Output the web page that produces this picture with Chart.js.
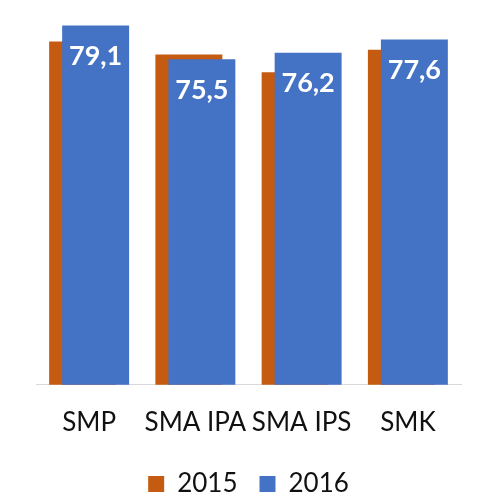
<!DOCTYPE html>
<html>
<head>
<meta charset="utf-8">
<script src="https://cdn.jsdelivr.net/npm/chart.js@4.4.0/dist/chart.umd.min.js"></script>
<style>
    html, body { margin: 0; padding: 0; background: #fff; }
    #wrap { width: 483px; height: 500px; }
</style>
</head>
<body>
<div id="wrap"><canvas id="bar"></canvas></div>
<script>
var categories = ['SMP', 'SMA IPA', 'SMA IPS', 'SMK'];
var seriesNames = ['2015', '2016'];
var values2015 = [77.4, 76.0, 74.1, 76.5];
var values2016 = [79.1, 75.5, 76.2, 77.6];

var FONT = 'Lato, "Open Sans", sans-serif';

// 2016 sits to the right but must be painted over 2015
var drawOrder = {
    id: 'drawOrder',
    beforeDatasetDraw: function (chart, args) {
        if (args.index === 1) {
            return false;
        }
    },
    afterDatasetsDraw: function (chart) {
        var meta = chart.getDatasetMeta(1);
        var area = chart.chartArea;
        if (meta.hidden) return;
        chart.ctx.save();
        chart.ctx.beginPath();
        chart.ctx.rect(area.left, area.top, area.right - area.left, area.bottom - area.top);
        chart.ctx.clip();
        meta.controller.draw();
        chart.ctx.restore();
    }
};

// white value labels inside the top of the 2016 bars
var valueLabels = {
    id: 'valueLabels',
    afterDatasetsDraw: function (chart) {
        var ctx = chart.ctx;
        var meta = chart.getDatasetMeta(1);
        if (meta.hidden) return;
        ctx.save();
        ctx.fillStyle = '#ffffff';
        ctx.font = 'bold 27px ' + FONT;
        ctx.textAlign = 'center';
        ctx.textBaseline = 'middle';
        meta.data.forEach(function (bar, i) {
            var txt = values2016[i].toFixed(1).replace('.', ',');
            ctx.fillText(txt, bar.x, bar.y + 31);
        });
        ctx.restore();
    }
};

var myChart = new Chart(document.getElementById('bar'), {
    type: 'bar',
    data: {
        labels: categories,
        datasets: [
            {
                label: seriesNames[0],
                data: values2015,
                backgroundColor: '#C55A11',
                borderWidth: 0
            },
            {
                label: seriesNames[1],
                data: values2016,
                backgroundColor: '#4472C4',
                borderWidth: 0
            }
        ]
    },
    options: {
        responsive: true,
        maintainAspectRatio: false,
        animation: false,
        categoryPercentage: 0.2447,
        barPercentage: 5.15,
        layout: {
            padding: { left: 36, right: 22, top: 17, bottom: -7 }
        },
        scales: {
            x: {
                grid: { display: false, drawTicks: false },
                border: { display: true, color: '#d9d9d9', width: 1 },
                ticks: {
                    color: '#111',
                    padding: 22,
                    maxRotation: 0,
                    autoSkip: false,
                    font: { family: FONT, size: 26 }
                },
                afterFit: function (scale) {
                    scale.height -= 11;
                }
            },
            y: {
                display: false,
                min: 40.8,
                max: 80
            }
        },
        plugins: {
            legend: {
                position: 'bottom',
                labels: {
                    color: '#111',
                    boxWidth: 16,
                    boxHeight: 16,
                    padding: 22,
                    font: { family: FONT, size: 26 }
                }
            },
            tooltip: { enabled: false }
        }
    },
    plugins: [drawOrder, valueLabels]
});
</script>
</body>
</html>
